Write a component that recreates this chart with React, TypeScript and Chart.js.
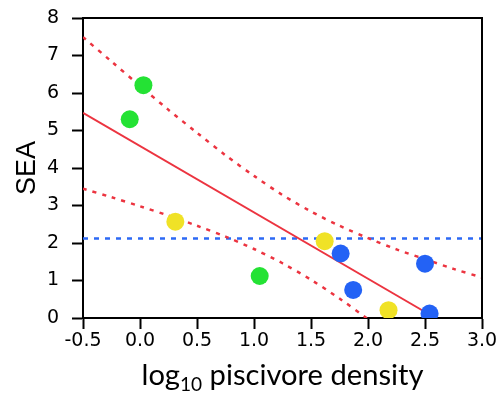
import React, { useEffect, useRef } from 'react';
import { Chart, registerables } from 'chart.js';
Chart.register(...registerables);

// Observed points (log10 piscivore density, SEA)
const greenX = [0.03, -0.09, 1.05];
const greenY = [6.21, 5.3, 1.12];
const yellowX = [0.31, 1.62, 2.18];
const yellowY = [2.57, 2.05, 0.21];
const blueX = [1.76, 1.87, 2.5, 2.54];
const blueY = [1.72, 0.75, 1.45, 0.12];

// Fitted regression line
const fitX = [-0.5, 2.49];
const fitY = [5.47, 0.18];

// Confidence bands
const bandX = [-0.5, -0.25, 0, 0.25, 0.5, 0.75, 1, 1.25, 1.5, 1.75, 2, 2.25, 2.5, 2.75, 3];
const upperBand = [7.49, 6.84, 6.19, 5.55, 4.94, 4.34, 3.79, 3.28, 2.84, 2.46, 2.13, 1.83, 1.57, 1.31, 1.08];
const lowerBand = [3.45, 3.22, 2.98, 2.73, 2.46, 2.17, 1.84, 1.46, 1.02, 0.52, -0.03];

// Horizontal reference line
const refX = [-0.5, 3.0];
const refY = [2.12, 2.12];

const xTicks = [-0.5, 0, 0.5, 1, 1.5, 2, 2.5, 3];
const yTicks = [0, 1, 2, 3, 4, 5, 6, 7, 8];

const pts = (xs: number[], ys: number[]) => ys.map((y, i) => ({ x: xs[i], y }));

const RED = 'rgb(236,52,64)';
const BLUE = 'rgb(45,105,245)';
const TICK_FONT = { family: "'DejaVu Sans'", size: 19 };

const framePlugin = {
  id: 'frame',
  afterDraw(chart: any) {
    const { ctx, chartArea } = chart;
    ctx.save();
    ctx.strokeStyle = '#000';
    ctx.lineWidth = 2;
    ctx.beginPath();
    ctx.moveTo(chartArea.left - 1, chartArea.top);
    ctx.lineTo(chartArea.right, chartArea.top);
    ctx.lineTo(chartArea.right, chartArea.bottom);
    ctx.stroke();

    // x-axis title with subscript
    const big = "29px 'Lato'";
    const small = "19px 'Lato'";
    ctx.font = big;
    const w1 = ctx.measureText('log').width;
    const w3 = ctx.measureText(' piscivore density').width;
    ctx.font = small;
    const w2 = ctx.measureText('10').width;
    const total = w1 + w2 + w3;
    const target = 282;
    const sx = target / total;
    const cx = (chartArea.left + chartArea.right) / 2;
    ctx.translate(cx - target / 2, 385);
    ctx.scale(sx, 1);
    ctx.fillStyle = '#000';
    ctx.textBaseline = 'alphabetic';
    ctx.textAlign = 'left';
    ctx.font = big;
    ctx.fillText('log', 0, 0);
    ctx.font = small;
    ctx.fillText('10', w1, 6);
    ctx.font = big;
    ctx.fillText(' piscivore density', w1 + w2, 0);
    ctx.restore();
  },
};

export default function App() {
  const ref = useRef<HTMLCanvasElement>(null);
  useEffect(() => {
    const pointDs = (label: string, xs: number[], ys: number[], color: string) => ({
      label,
      data: pts(xs, ys),
      backgroundColor: color,
      borderWidth: 0,
      pointRadius: 9,
      order: 0,
    });
    const lineDs = (label: string, data: any[], color: string, dash: number[], width: number, tension = 0) => ({
      label,
      data,
      showLine: true,
      borderColor: color,
      borderWidth: width,
      borderDash: dash,
      pointRadius: 0,
      fill: false,
      tension,
      order: 1,
    });
    const chart = new Chart(ref.current!, {
      type: 'scatter',
      data: {
        datasets: [
          pointDs('green', greenX, greenY, 'rgb(36,226,52)'),
          pointDs('yellow', yellowX, yellowY, 'rgb(240,226,38)'),
          pointDs('blue', blueX, blueY, 'rgb(35,98,245)'),
          lineDs('fit', pts(fitX, fitY), RED, [], 2),
          lineDs('upper', pts(bandX, upperBand), RED, [4, 6], 2.5, 0.3),
          lineDs('lower', pts(bandX.slice(0, lowerBand.length), lowerBand), RED, [4, 6], 2.5, 0.3),
          lineDs('ref', pts(refX, refY), BLUE, [5, 6], 2.5),
        ] as any,
      },
      options: {
        animation: false,
        responsive: true,
        maintainAspectRatio: false,
        layout: { padding: { left: 0, top: 18, right: 16, bottom: 0 } },
        plugins: { legend: { display: false }, tooltip: { enabled: false } },
        scales: {
          x: {
            type: 'linear',
            min: -0.5,
            max: 3,
            afterBuildTicks: (s: any) => {
              s.ticks = xTicks.map((v) => ({ value: v }));
            },
            afterFit: (s: any) => {
              s.height = 75;
              s.paddingLeft = 0;
              s.paddingRight = 0;
            },
            ticks: {
              color: '#000',
              font: TICK_FONT,
              padding: 1,
              maxRotation: 0,
              autoSkip: false,
              callback: (v: any) => Number(v).toFixed(1),
            },
            grid: { drawOnChartArea: false, drawTicks: true, tickLength: 11, tickWidth: 2, tickColor: '#000' },
            border: { display: true, color: '#000', width: 2 },
          },
          y: {
            type: 'linear',
            min: 0,
            max: 8,
            afterBuildTicks: (s: any) => {
              s.ticks = yTicks.map((v) => ({ value: v }));
            },
            afterFit: (s: any) => {
              s.width = 83;
              s.paddingTop = 0;
              s.paddingBottom = 0;
            },
            ticks: {
              color: '#000',
              font: TICK_FONT,
              padding: 13,
              autoSkip: false,
            },
            title: {
              display: true,
              text: 'SEA',
              color: '#000',
              font: { family: "'Liberation Sans'", size: 27 },
              padding: { top: 11, bottom: 0 },
            },
            grid: { drawOnChartArea: false, drawTicks: true, tickLength: 11, tickWidth: 2, tickColor: '#000' },
            border: { display: true, color: '#000', width: 2 },
          },
        },
      },
      plugins: [framePlugin],
    } as any);
    return () => chart.destroy();
  }, []);
  return (
    <div style={{ position: 'absolute', left: 0, top: 0, width: 498, height: 393, background: '#fff' }}>
      <canvas ref={ref} />
    </div>
  );
}
